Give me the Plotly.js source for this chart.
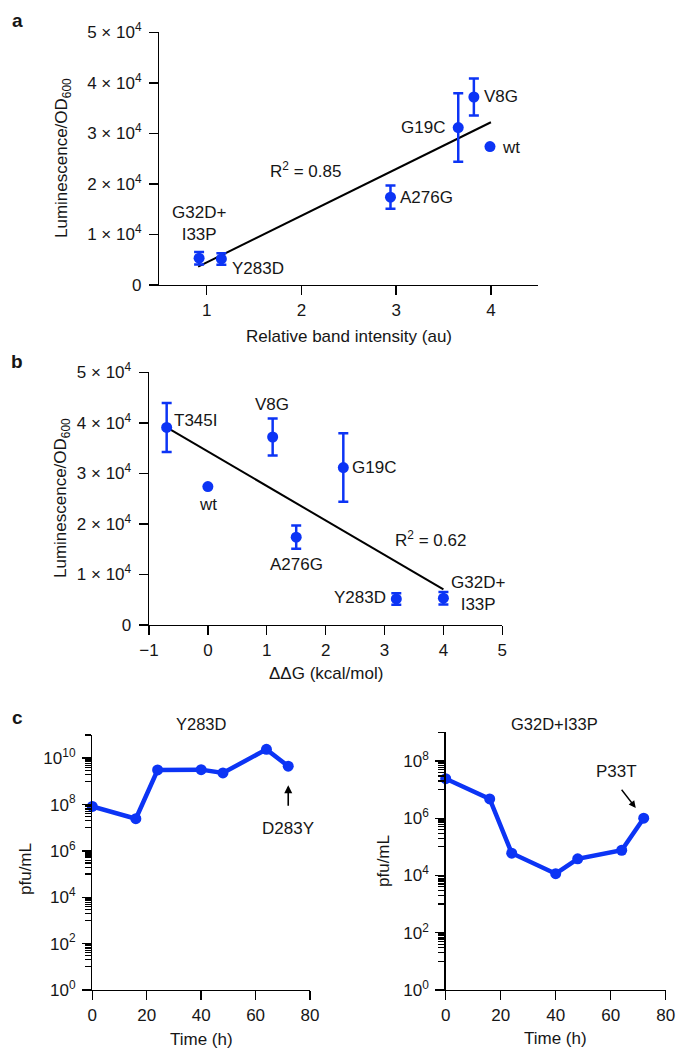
<!DOCTYPE html>
<html>
<head>
<meta charset="utf-8">
<script src="https://cdn.plot.ly/plotly-3.0.1.min.js"></script>
<style>
html,body{margin:0;padding:0;background:#fff;}
#chart{width:677px;height:1050px;}
</style>
</head>
<body>
<div id="chart"></div>
<script>
// ---------- DATA ----------
// Panel a: luminescence vs relative band intensity
var mutantsA = ['G32D+I33P', 'Y283D', 'A276G', 'G19C', 'V8G', 'wt'];
var bandIntensity = [0.92, 1.155, 2.94, 3.655, 3.82, 3.99];
var lumA = [5300, 5150, 17370, 31150, 37200, 27400];
var lumErrA = [1250, 1150, 2300, 6770, 3660, 0];
var fitAx = [0.91, 4.0];
var fitAy = [3620, 32200];
var r2A = 'R<sup>2</sup> = 0.85';

// Panel b: luminescence vs ddG
var mutantsB = ['T345I', 'wt', 'V8G', 'A276G', 'G19C', 'Y283D', 'G32D+I33P'];
var ddG = [-0.70, 0.0, 1.10, 1.50, 2.30, 3.20, 4.00];
var lumB = [39100, 27400, 37200, 17370, 31150, 5150, 5300];
var lumErrB = [4850, 0, 3660, 2300, 6770, 1150, 1250];
var fitBx = [-0.7, 4.0];
var fitBy = [39100, 7050];
var r2B = 'R<sup>2</sup> = 0.62';

// Panel c: phage titres over time
var timeH = [0, 16, 24, 40, 48, 64, 72];
var pfuY283D = [8.3e7, 2.45e7, 3.1e9, 3.2e9, 2.3e9, 2.4e10, 4.5e9];
var pfuG32D = [2.4e7, 4.7e6, 6.0e4, 1.15e4, 3.8e4, 7.6e4, 1.0e6];

// Tick labels
var lumTickVals = [0, 10000, 20000, 30000, 40000, 50000];
var lumTickText = ['0', '1 × 10<sup>4</sup>', '2 × 10<sup>4</sup>', '3 × 10<sup>4</sup>', '4 × 10<sup>4</sup>', '5 × 10<sup>4</sup>'];
var bandTickVals = [1, 2, 3, 4];
var ddgTickVals = [-1, 0, 1, 2, 3, 4, 5];
var ddgTickText = ['\u22121', '0', '1', '2', '3', '4', '5'];
var timeTickVals = [0, 20, 40, 60, 80];
var pfuTickValsL = [1, 1e2, 1e4, 1e6, 1e8, 1e10];
var pfuTickTextL = ['10<sup>0</sup>', '10<sup>2</sup>', '10<sup>4</sup>', '10<sup>6</sup>', '10<sup>8</sup>', '10<sup>10</sup>'];
var pfuTickValsR = [1, 1e2, 1e4, 1e6, 1e8];
var pfuTickTextR = ['10<sup>0</sup>', '10<sup>2</sup>', '10<sup>4</sup>', '10<sup>6</sup>', '10<sup>8</sup>'];

// ---------- STYLE / LAYOUT HELPERS ----------
var W = 677, H = 1050;
var BLUE = 'rgb(12,52,245)';
var INK = '#161616';
var FONT = 'Liberation Sans, Arial, Helvetica, sans-serif';
var FS = 17;
function fx(px) { return px / W; }
function fy(py) { return 1 - py / H; }

// minor ticks for 2-decade log spacing: k x 10^(n+1) within each span
function minorLog(maxExp) {
  var v = [];
  for (var n = 0; n < maxExp; n += 2) {
    for (var k = 1; k <= 9; k++) {
      var val = k * Math.pow(10, n + 1);
      if (Math.log10(val) <= maxExp + 1e-9) v.push(val);
    }
  }
  return v;
}

var scatterStyle = {
  mode: 'markers',
  marker: { color: BLUE, size: 11 },
  cliponaxis: false,
  hoverinfo: 'skip',
  showlegend: false
};

var traces = [
  { x: fitAx, y: fitAy, xaxis: 'x', yaxis: 'y', mode: 'lines', line: { color: '#000', width: 2 }, showlegend: false, hoverinfo: 'skip' },
  Object.assign({ x: bandIntensity, y: lumA, xaxis: 'x', yaxis: 'y', text: mutantsA,
    error_y: { type: 'data', array: lumErrA, visible: true, color: BLUE, thickness: 2.5, width: 5 } }, scatterStyle),
  { x: fitBx, y: fitBy, xaxis: 'x2', yaxis: 'y2', mode: 'lines', line: { color: '#000', width: 2 }, showlegend: false, hoverinfo: 'skip' },
  Object.assign({ x: ddG, y: lumB, xaxis: 'x2', yaxis: 'y2', text: mutantsB,
    error_y: { type: 'data', array: lumErrB, visible: true, color: BLUE, thickness: 2.5, width: 5 } }, scatterStyle),
  { x: timeH, y: pfuY283D, xaxis: 'x3', yaxis: 'y3', mode: 'lines+markers', line: { color: BLUE, width: 4.5 },
    marker: { color: BLUE, size: 11 }, cliponaxis: false, showlegend: false, hoverinfo: 'skip' },
  { x: timeH, y: pfuG32D, xaxis: 'x4', yaxis: 'y4', mode: 'lines+markers', line: { color: BLUE, width: 4.5 },
    marker: { color: BLUE, size: 11 }, cliponaxis: false, showlegend: false, hoverinfo: 'skip' }
];

function baseAxis(extra) {
  return Object.assign({
    showline: true, linecolor: '#000', linewidth: 1.4,
    ticks: 'outside', ticklen: 9, tickwidth: 1.4, tickcolor: '#000',
    showgrid: false, zeroline: false, fixedrange: true,
    tickfont: { family: FONT, size: FS, color: INK },
    tickmode: 'array'
  }, extra);
}

var minorStyle = function (vals) {
  return { tickmode: 'array', tickvals: vals, ticks: 'outside', ticklen: 6, tickwidth: 1.2, tickcolor: '#000', showgrid: false };
};

var annotations = [];
function paperText(text, x, y, size, extra) {
  annotations.push(Object.assign({
    text: text, xref: 'paper', yref: 'paper', x: fx(x), y: fy(y),
    xanchor: 'center', yanchor: 'middle', showarrow: false,
    font: { family: FONT, size: size, color: INK }
  }, extra || {}));
}
function pointLabel(ax, ay, xs, ys, i, text, xanchor, dx, dy) {
  annotations.push({
    text: text, xref: ax, yref: ay, x: xs[i], y: ys[i],
    xanchor: xanchor, yanchor: 'middle', xshift: dx, yshift: dy,
    showarrow: false, font: { family: FONT, size: FS, color: INK }
  });
}

// panel letters
paperText('<b>a</b>', 17, 20, 19);
paperText('<b>b</b>', 17, 361, 19);
paperText('<b>c</b>', 17, 717, 19);

// axis titles
paperText('Relative band intensity (au)', 349, 336.5, 17);
paperText('Luminescence/OD<sub>600</sub>', 63, 158, 17, { textangle: -90 });
paperText('\u0394\u0394G (kcal/mol)', 326, 673, 17);
paperText('Luminescence/OD<sub>600</sub>', 62, 498, 17, { textangle: -90 });
paperText('Time (h)', 201.5, 1039, 17);
paperText('pfu/mL', 25, 869, 17, { textangle: -90 });
paperText('Time (h)', 555, 1038, 17);
paperText('pfu/mL', 383, 861, 17, { textangle: -90 });
// subplot titles in c
paperText('Y283D', 201.5, 724, 16.5);
paperText('G32D+I33P', 554, 724, 16.5);

// panel a labels
pointLabel('x', 'y', bandIntensity, lumA, 0, 'G32D+<br>I33P', 'center', 0, 35);
pointLabel('x', 'y', bandIntensity, lumA, 1, 'Y283D', 'left', 9, -10);
pointLabel('x', 'y', bandIntensity, lumA, 2, 'A276G', 'left', 8, 0);
pointLabel('x', 'y', bandIntensity, lumA, 3, 'G19C', 'right', -11, 0);
pointLabel('x', 'y', bandIntensity, lumA, 4, 'V8G', 'left', 8, 0);
pointLabel('x', 'y', bandIntensity, lumA, 5, 'wt', 'left', 10, -1);
annotations.push({ text: r2A, xref: 'x', yref: 'y', x: 2.04, y: 22800, showarrow: false,
  xanchor: 'center', yanchor: 'middle', font: { family: FONT, size: FS, color: INK } });

// panel b labels
pointLabel('x2', 'y2', ddG, lumB, 0, 'T345I', 'left', 5, 7);
pointLabel('x2', 'y2', ddG, lumB, 1, 'wt', 'center', 0, -18);
pointLabel('x2', 'y2', ddG, lumB, 2, 'V8G', 'center', -1, 32);
pointLabel('x2', 'y2', ddG, lumB, 3, 'A276G', 'center', 0, -27);
pointLabel('x2', 'y2', ddG, lumB, 4, 'G19C', 'left', 7, 0);
pointLabel('x2', 'y2', ddG, lumB, 5, 'Y283D', 'right', -8, 1);
pointLabel('x2', 'y2', ddG, lumB, 6, 'G32D+<br>I33P', 'center', 35, 5);
annotations.push({ text: r2B, xref: 'x2', yref: 'y2', x: 3.78, y: 17000, showarrow: false,
  xanchor: 'center', yanchor: 'middle', font: { family: FONT, size: FS, color: INK } });

// panel c arrows & labels (annotation y on log axes is given in log10 units)
var last = timeH.length - 1;
var yL = Math.log10(pfuY283D[last]);
var yR = Math.log10(pfuG32D[last]);
annotations.push({ text: ' ', xref: 'x3', yref: 'y3', x: timeH[last], y: yL,
  showarrow: true, ax: 0, ay: 42, standoff: 19, arrowhead: 2, arrowsize: 1, arrowwidth: 1.6, arrowcolor: '#000',
  font: { family: FONT, size: 2, color: INK } });
annotations.push({ text: 'D283Y', xref: 'x3', yref: 'y3', x: timeH[last], y: yL,
  showarrow: false, xanchor: 'center', yanchor: 'middle', yshift: -62, font: { family: FONT, size: FS, color: INK } });
annotations.push({ text: ' ', xref: 'x4', yref: 'y4', x: timeH[last], y: yR,
  showarrow: true, ax: -24, ay: -31, standoff: 13, arrowhead: 2, arrowsize: 1, arrowwidth: 1.4, arrowcolor: '#000',
  font: { family: FONT, size: 2, color: INK } });
annotations.push({ text: 'P33T', xref: 'x4', yref: 'y4', x: timeH[last], y: yR,
  showarrow: false, xanchor: 'center', yanchor: 'middle', xshift: -27, yshift: 47, font: { family: FONT, size: FS, color: INK } });

var layout = {
  width: W, height: H,
  margin: { l: 0, r: 0, t: 0, b: 0 },
  paper_bgcolor: '#fff', plot_bgcolor: 'rgba(0,0,0,0)',
  showlegend: false,
  font: { family: FONT, color: INK },
  xaxis: baseAxis({ domain: [fx(159.3), fx(538.3)], range: [0.5, 4.5], tickvals: bandTickVals, anchor: 'y' }),
  yaxis: baseAxis({ domain: [fy(285), fy(32.3)], range: [0, 50000], tickvals: lumTickVals, ticktext: lumTickText, anchor: 'x', ticklabelstandoff: 4 }),
  xaxis2: baseAxis({ domain: [fx(149), fx(502.3)], range: [-1, 5], tickvals: ddgTickVals, ticktext: ddgTickText, anchor: 'y2' }),
  yaxis2: baseAxis({ domain: [fy(625), fy(372.3)], range: [0, 50000], tickvals: lumTickVals, ticktext: lumTickText, anchor: 'x2', ticklabelstandoff: 4 }),
  xaxis3: baseAxis({ domain: [fx(92.3), fx(310)], range: [0, 80], tickvals: timeTickVals, anchor: 'y3' }),
  yaxis3: baseAxis({ domain: [fy(990), fy(735)], type: 'log', range: [0, 11], tickvals: pfuTickValsL, ticktext: pfuTickTextL, anchor: 'x3',
    ticklabelstandoff: 3, minor: minorStyle(minorLog(11)) }),
  xaxis4: baseAxis({ domain: [fx(445.7), fx(665.7)], range: [0, 80], tickvals: timeTickVals, anchor: 'y4' }),
  yaxis4: baseAxis({ domain: [fy(990), fy(732.3)], type: 'log', range: [0, 9], tickvals: pfuTickValsR, ticktext: pfuTickTextR, anchor: 'x4',
    ticklabelstandoff: 3, minor: minorStyle(minorLog(9)) }),
  annotations: annotations
};

Plotly.newPlot('chart', traces, layout, { staticPlot: true, displayModeBar: false });
</script>
</body>
</html>
